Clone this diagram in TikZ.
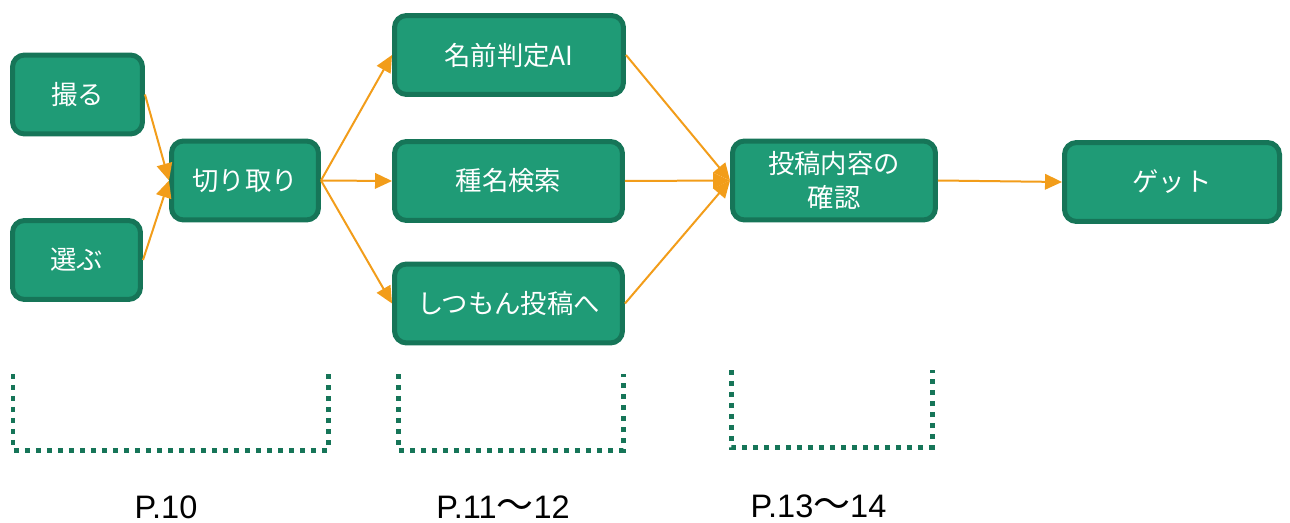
\documentclass[tikz,border=0pt]{standalone}
\usepackage{fontspec}
\setmainfont{Noto Sans CJK JP}
\newfontfamily\labelfont{Liberation Sans}
\newfontfamily\cjkfont{Noto Sans CJK JP}
\usetikzlibrary{arrows.meta}

\definecolor{boxfill}{RGB}{31,155,118}
\definecolor{boxline}{RGB}{22,117,88}
\definecolor{arroworange}{RGB}{242,157,26}

\newcommand{\wavedash}{{\cjkfont\fontsize{21}{21}\selectfont 〜}}

\begin{document}
\begin{tikzpicture}[
    x=0.02cm, y=-0.02cm,
    greenbox/.style={draw=boxline, fill=boxfill, line width=0.1cm, rounded corners=0.24cm,
        text=white, minimum height=1.58cm, align=center, inner sep=0pt,
        font=\fontsize{15}{19.5}\selectfont},
    flowarrow/.style={draw=arroworange, line width=0.04cm, -{Triangle[length=0.34cm,width=0.31cm]}},
    pagebracket/.style={draw=boxline, line width=0.1cm, dash pattern=on 0.1cm off 0.12cm},
    pagelabel/.style={font=\labelfont\fontsize{18.5}{20}\selectfont, anchor=base},
]
\useasboundingbox (0,0) rectangle (1290,523);

% Input steps
\node[greenbox, minimum width=2.6cm] (toru) at (77.5,94.5) {撮る};
\node[greenbox, minimum width=2.56cm] (erabu) at (76.5,260) {選ぶ};
\node[greenbox, minimum width=2.94cm] (kiritori) at (245,180.5) {切り取り};

% Identification
\node[greenbox, minimum width=4.58cm] (hantei) at (509,55) {名前判定AI};
\node[greenbox, minimum width=4.56cm] (kensaku) at (508.5,181) {種名検索};
\node[greenbox, minimum width=4.56cm] (shitsumon) at (508.5,303.5) {しつもん投稿へ};

% Posting
\node[greenbox, minimum width=4.06cm] (kakunin) at (834,180.5) {投稿内容の\\確認};
\node[greenbox, minimum width=4.3cm] (getto) at (1172,182) {ゲット};

% Arrows
\draw[flowarrow] (toru.east) -- (kiritori.west);
\draw[flowarrow] (erabu.east) -- (kiritori.west);
\draw[flowarrow] (kiritori.east) -- (hantei.west);
\draw[flowarrow] (kiritori.east) -- (kensaku.west);
\draw[flowarrow] (kiritori.east) -- (shitsumon.west);
\draw[flowarrow] (hantei.east) -- (kakunin.west);
\draw[flowarrow] (kensaku.east) -- (kakunin.west);
\draw[flowarrow] (shitsumon.east) -- (kakunin.west);
\draw[flowarrow] (kakunin.east) -- (getto.west);

% Page brackets
\draw[pagebracket] (13,374) -- (13,450) -- (328,450) -- (328,374);
\draw[pagebracket] (398,374) -- (398,450) -- (623,450) -- (623,374);
\draw[pagebracket] (731,370) -- (731,447) -- (932,447) -- (932,370);

% Page labels
\node[pagelabel] (p10) at (166,518) {P.10};
\node[pagelabel] (p11) at (503,518) {P.11\wavedash12};
\node[pagelabel] (p13) at (818.5,517) {P.13\wavedash14};

\end{tikzpicture}
\end{document}
